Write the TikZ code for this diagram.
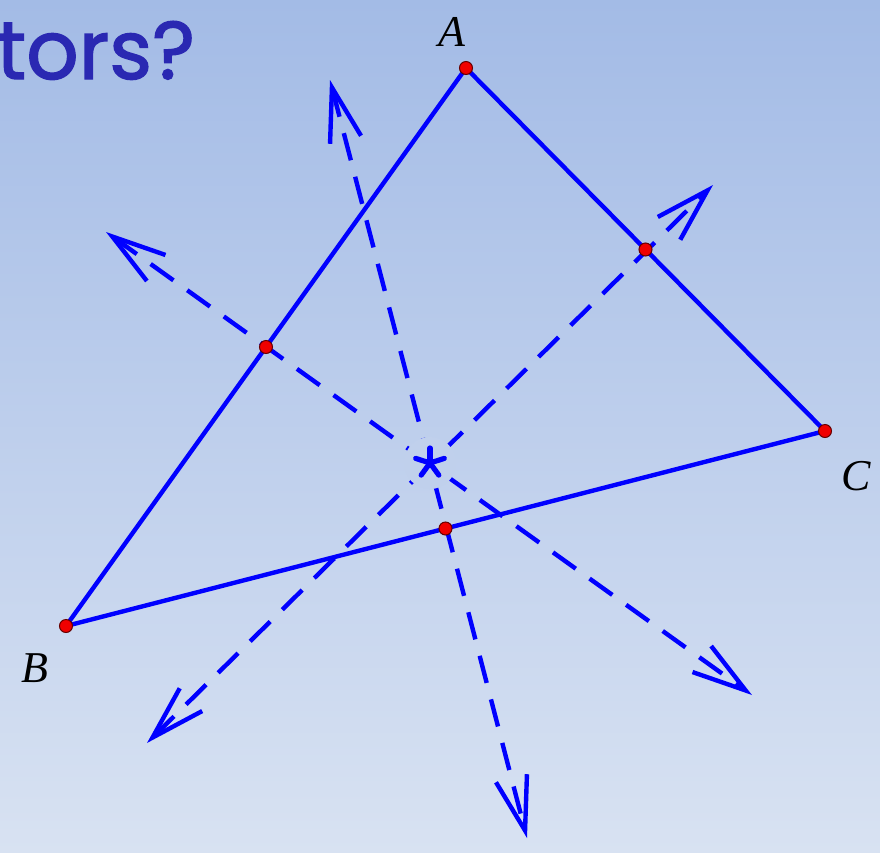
\documentclass[tikz,border=0pt]{standalone}
\usepackage{fontspec}
\setmainfont{Liberation Serif}
\newfontfamily\titlefont[FakeBold=1.6]{Poppins}
\usetikzlibrary{arrows.meta}
\definecolor{bgtop}{RGB}{163,187,230}
\definecolor{bgbot}{RGB}{216,226,242}
\definecolor{bgmid}{RGB}{192,208,236}
\definecolor{titleblue}{RGB}{42,40,178}
\definecolor{ptred}{RGB}{240,0,0}
\tikzset{
  side/.style={blue, line width=2.2pt},
  bis/.style={blue, line width=2.2pt, dash pattern=on 14pt off 8.5pt,
    {Straight Barb[length=27pt,width=16pt,line width=2.2pt]}-{Straight Barb[length=27pt,width=16pt,line width=2.2pt]}},
  pt/.style={circle, fill=ptred, draw=black!60!red, line width=0.5pt, minimum size=6.5pt, inner sep=0pt},
  lab/.style={font=\fontsize{22}{24}\selectfont\itshape, text=black},
  arm/.style={blue, line width=2.6pt, line cap=round}
}
\begin{document}
\begin{tikzpicture}[x=0.5pt,y=-0.5pt]
\shade[top color=bgtop, bottom color=bgbot] (0,0) rectangle (880,853);
\useasboundingbox (0,0) rectangle (880,853);
\node[anchor=base west, inner sep=0pt, text=titleblue, font=\titlefont\fontsize{41}{44}\selectfont] (title) at (-4,79) {tors?};
\coordinate (A) at (466,68);
\coordinate (B) at (66,626);
\coordinate (C) at (825,431);
\coordinate (MAB) at (266,347);
\coordinate (MAC) at (645.5,249.5);
\coordinate (MBC) at (445.5,528.5);
\coordinate (O) at (430,463);
\coordinate (T1) at (330,80);
\coordinate (T2) at (527,838);
\coordinate (T3) at (106,232);
\coordinate (T4) at (752,695);
\coordinate (T5) at (713,185);
\coordinate (T6) at (147,743);
\draw[side] (A) -- (B) -- (C) -- cycle;
\draw[bis] (T1) -- (T2);
\draw[bis] (T3) -- (T4);
\draw[bis] (T6) -- (T5);
\fill[bgmid] (O) circle [radius=13pt];
\draw[arm] (O) -- ++(0,-15);
\draw[arm] (O) -- ++(14.3,-4.6);
\draw[arm] (O) -- ++(-14.3,-4.6);
\draw[arm] (O) -- ++(8.8,12.1);
\draw[arm] (O) -- ++(-8.8,12.1);
\foreach \p in {A,B,C,MAB,MAC,MBC} \node[pt] (d\p) at (\p) {};
\node[lab] (lA) at (452,32) {A};
\node[lab] (lB) at (35,668) {B};
\node[lab] (lC) at (856,476) {C};
\end{tikzpicture}
\end{document}
